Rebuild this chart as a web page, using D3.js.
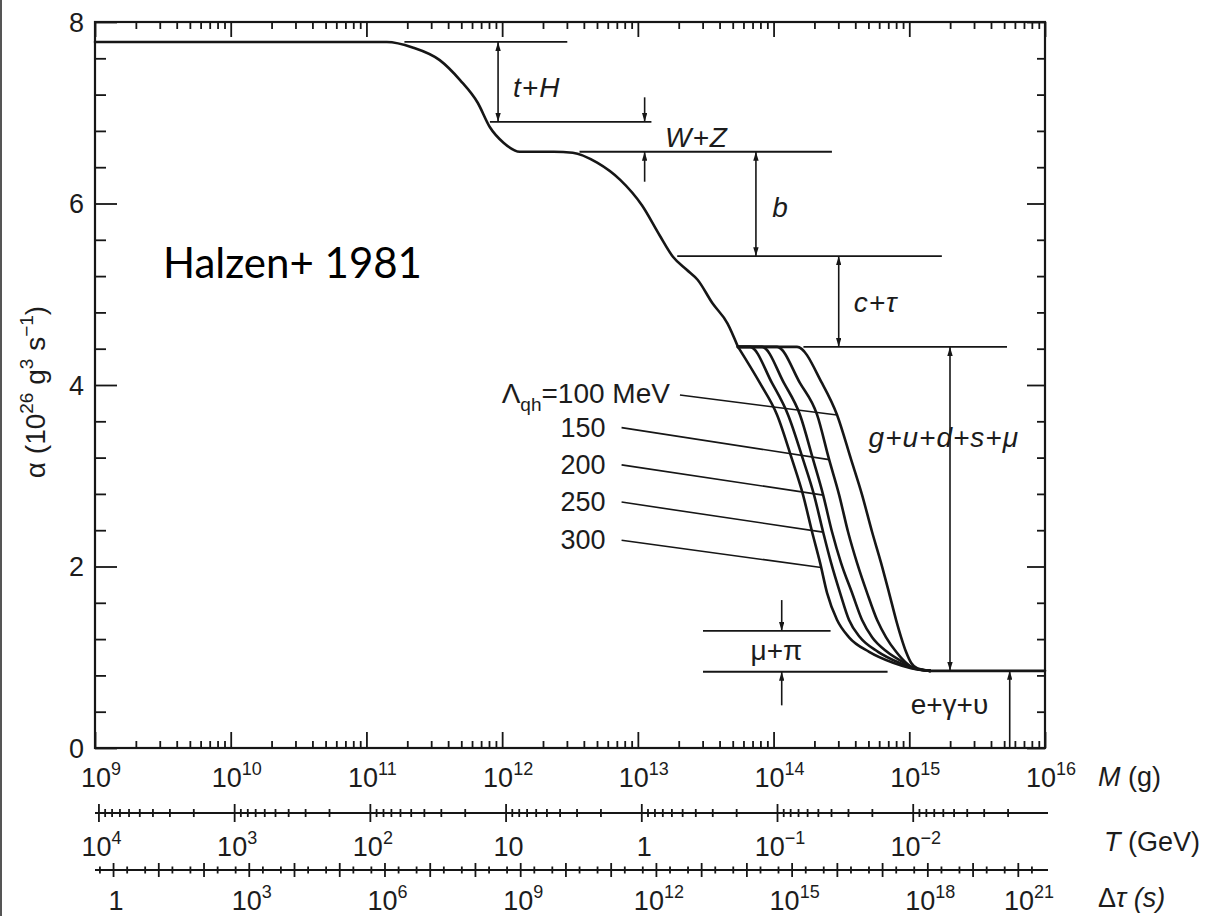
<!DOCTYPE html>
<html>
<head>
<meta charset="utf-8">
<script src="https://cdnjs.cloudflare.com/ajax/libs/d3/7.8.5/d3.min.js"></script>
<style>
  html, body { margin: 0; padding: 0; background: #fff; }
  svg { display: block; }
  text { font-family: "Liberation Sans", Arial, Helvetica, sans-serif; fill: #1c1c1c; }
</style>
</head>
<body>
<svg id="chart" width="1210" height="916"></svg>
<script>
// ---------------- data ----------------
// mass axis decades (log10 M [g]), temperature decades (log10 T [GeV]), lifetime decades (log10 Δτ [s])
const massDecades = [9, 10, 11, 12, 13, 14, 15, 16];
const tempDecades = [4, 3, 2, 1, 0, -1, -2];
const lifeDecades = [0, 3, 6, 9, 12, 15, 18, 21];
const alphaLabels = [0, 2, 4, 6, 8];

// α(M) above the quark–hadron transition (log10 M, α in 1e26 g^3 s^-1)
const commonLogM  = [9.00, 11.15, 11.34, 11.54, 11.69, 11.82, 11.91, 12.01, 12.13, 12.38, 12.52, 12.70, 12.87, 13.03, 13.16, 13.26, 13.36, 13.44, 13.55, 13.66, 13.738];
const commonAlpha = [7.78, 7.78, 7.72, 7.58, 7.36, 7.11, 6.84, 6.67, 6.57, 6.57, 6.56, 6.45, 6.26, 5.98, 5.65, 5.41, 5.27, 5.16, 4.90, 4.68, 4.42];

// branches for different Λ_qh
const lambdaQH = [100, 150, 200, 250, 300];
const branchLogM = [
  [13.738, 14.173, 14.357, 14.468, 14.571, 14.652, 14.726, 14.792, 14.851, 14.903, 14.940, 14.976, 15.013, 15.058, 15.153],
  [13.738, 14.026, 14.195, 14.321, 14.409, 14.483, 14.549, 14.615, 14.689, 14.763, 14.829, 14.903, 14.976, 15.035, 15.153],
  [13.738, 13.915, 14.077, 14.195, 14.291, 14.365, 14.431, 14.497, 14.578, 14.652, 14.726, 14.836, 14.962, 15.035, 15.153],
  [13.738, 13.827, 13.989, 14.107, 14.217, 14.298, 14.365, 14.424, 14.490, 14.556, 14.637, 14.770, 14.925, 15.028, 15.153],
  [13.738, 13.900, 14.026, 14.136, 14.217, 14.284, 14.343, 14.394, 14.468, 14.556, 14.704, 14.881, 15.013, 15.153]
];
const branchAlpha = [
  [4.42, 4.42, 4.02, 3.67, 3.18, 2.79, 2.38, 2.04, 1.71, 1.41, 1.22, 1.06, 0.94, 0.88, 0.85],
  [4.42, 4.42, 4.02, 3.67, 3.18, 2.79, 2.38, 2.04, 1.71, 1.41, 1.22, 1.06, 0.94, 0.88, 0.85],
  [4.42, 4.42, 4.02, 3.67, 3.18, 2.79, 2.38, 2.04, 1.71, 1.41, 1.22, 1.06, 0.94, 0.88, 0.85],
  [4.42, 4.42, 4.02, 3.67, 3.18, 2.79, 2.38, 2.04, 1.71, 1.41, 1.22, 1.06, 0.94, 0.88, 0.85],
  [4.42, 4.02, 3.67, 3.18, 2.79, 2.38, 2.04, 1.71, 1.41, 1.22, 1.06, 0.94, 0.88, 0.85]
];
// low-mass tail (only e, γ, ν left)
const tailLogM  = [15.153, 16.00];
const tailAlpha = [0.85, 0.85];

// reference levels of α between particle thresholds
const levelAlpha = [7.78, 6.90, 6.57, 5.42, 4.42, 1.29, 0.84];
const levelFrom  = [11.28, 11.91, 12.57, 13.29, 14.22, 13.48, 13.48];
const levelTo    = [12.48, 13.10, 14.43, 15.24, 15.72, 14.42, 14.84];

// vertical arrows marking each contribution
const arrowLogM = [11.97, 13.05, 13.05, 13.87, 14.48, 15.30, 14.06, 14.06, 15.74];
const arrowFrom = [7.78, 7.17, 6.24, 6.57, 5.42, 4.42, 1.63, 0.47, 0.00];
const arrowTo   = [6.90, 6.90, 6.57, 5.42, 4.42, 0.85, 1.29, 0.84, 0.85];
const arrowBoth = [true, false, false, true, true, true, false, false, false];

// contribution names
const stepNames  = ["t+H", "W+Z", "b", "c+τ", "g+u+d+s+μ", "μ+π", "e+γ+υ"];
const stepItalic = [true, true, true, true, true, false, false];

// ---------------- layout ----------------
const frame = { left: 95, right: 1045, top: 22, bottom: 748 };
const ink = "#161616";
const svg = d3.select("#chart");

const x = d3.scaleLog().domain([1e9, 1e16]).range([frame.left, frame.right]);
const y = d3.scaleLinear().domain([0, 8]).range([frame.bottom, frame.top]);
const X = lm => x(Math.pow(10, lm));

// temperature and lifetime scales tied to the mass scale: T = 1.06e13 g / M, Δτ ∝ M^3
const tScale = d3.scaleLog().domain([1.06e13 / 1e9, 1.06e13 / 1e16]).range([frame.left, frame.right]);
const lifeOffset = 9.133;
const dtScale = d3.scaleLog()
  .domain([Math.pow(10, 3 * (9 - lifeOffset)), Math.pow(10, 3 * (16 - lifeOffset))])
  .range([frame.left, frame.right]);

// positions of the annotation labels (log10 M, α)
const stepLabelPos = [[12.08, 7.17], [13.20, 6.62], [13.99, 5.85], [14.59, 4.80], [14.70, 3.32], [13.83, 0.97], [15.01, 0.38]];
const leaderStart = [[13.31, 3.89], [12.88, 3.53], [12.88, 3.12], [12.88, 2.71], [12.88, 2.29]];
const leaderEndAlpha = [3.67, 3.18, 2.79, 2.38, 1.99];

// ---------------- helpers ----------------
function richText(g, px, py, parts, size, anchor) {
  const t = g.append("text").attr("x", px).attr("y", py)
    .attr("text-anchor", anchor || "start")
    .style("font-size", size + "px");
  let shift = 0;
  parts.forEach(([str, kind, style]) => {
    const target = kind === "sup" ? -size * 0.44 : kind === "sub" ? size * 0.28 : 0;
    const ts = t.append("tspan").text(str).attr("dy", target - shift);
    if (kind !== "base") ts.style("font-size", Math.round(size * 0.68) + "px");
    if (style === "i") ts.style("font-style", "italic");
    shift = target;
  });
  return t;
}
const decadeParts = e => e === 0 ? [["1", "base"]] : e === 1 ? [["10", "base"]] :
  [["10", "base"], [e < 0 ? "−" + (-e) : String(e), "sup"]];

// image border on the left
svg.append("line").attr("x1", 1).attr("x2", 1).attr("y1", 0).attr("y2", 916)
  .attr("stroke", "#555").attr("stroke-width", 2);

// arrowhead
svg.append("defs").append("marker")
  .attr("id", "head").attr("viewBox", "0 0 10 6").attr("refX", 10).attr("refY", 3)
  .attr("markerUnits", "userSpaceOnUse").attr("markerWidth", 9).attr("markerHeight", 5.4)
  .attr("orient", "auto-start-reverse")
  .append("path").attr("d", "M0,0L10,3L0,6Z").attr("fill", ink);

// ---------------- frame and α/M axes ----------------
const isDecade = v => Math.abs(Math.log10(v) - Math.round(Math.log10(v))) < 1e-9;
const mTicks = x.ticks();
const mMajor = mTicks.filter(isDecade), mMinor = mTicks.filter(v => !isDecade(v));
const aTicks = d3.range(0, 21).map(i => +(i * 0.4).toFixed(1));
const aMajor = aTicks.filter(v => alphaLabels.includes(v)), aMinor = aTicks.filter(v => !alphaLabels.includes(v));

function tickAxis(axis, tx, ty) {
  const g = svg.append("g").attr("transform", `translate(${tx},${ty})`).call(axis);
  g.select(".domain").remove();
  g.selectAll("line").attr("stroke", ink).attr("stroke-width", 1.8);
  g.selectAll("text").remove();
  return g;
}
tickAxis(d3.axisTop(x).tickValues(mMinor).tickSize(7), 0, frame.bottom);
tickAxis(d3.axisTop(x).tickValues(mMajor).tickSize(16), 0, frame.bottom);
tickAxis(d3.axisBottom(x).tickValues(mMinor).tickSize(7), 0, frame.top);
tickAxis(d3.axisBottom(x).tickValues(mMajor).tickSize(15), 0, frame.top);
tickAxis(d3.axisRight(y).tickValues(aMinor).tickSize(11), frame.left, 0);
tickAxis(d3.axisRight(y).tickValues(aMajor).tickSize(22), frame.left, 0);
tickAxis(d3.axisLeft(y).tickValues(aMinor).tickSize(8), frame.right, 0);
tickAxis(d3.axisLeft(y).tickValues(aMajor).tickSize(18), frame.right, 0);

svg.append("rect")
  .attr("x", frame.left).attr("y", frame.top)
  .attr("width", frame.right - frame.left).attr("height", frame.bottom - frame.top)
  .attr("fill", "none").attr("stroke", ink).attr("stroke-width", 2.2);

// α tick labels
const labels = svg.append("g");
alphaLabels.forEach(v => {
  labels.append("text").attr("x", 84).attr("y", y(v)).attr("dy", "0.36em")
    .attr("text-anchor", "end").style("font-size", "27px").text(v);
});
// α title
richText(svg.append("g").attr("transform", `translate(45,392) rotate(-90)`), 0, 0,
  [["α (10", "base"], ["26", "sup"], [" g", "base"], ["3", "sup"], [" s", "base"], ["−1", "sup"], [")", "base"]],
  28, "middle");

// M labels
massDecades.forEach(e => richText(labels, x(Math.pow(10, e)) + 6, 787, decadeParts(e), 27, "middle"));
richText(labels, 1098, 786, [["M", "base", "i"], [" (g)", "base"]], 27, "start");

// ---------------- temperature axis ----------------
const tY = 813;
svg.append("line").attr("x1", frame.left).attr("x2", frame.right + 3).attr("y1", tY).attr("y2", tY)
  .attr("stroke", ink).attr("stroke-width", 2);
const tTicks = tScale.ticks().filter(v => tScale(v) >= frame.left && tScale(v) <= frame.right);
const tMajor = tTicks.filter(isDecade), tMinor = tTicks.filter(v => !isDecade(v));
[[tMinor, 4], [tMajor, 9]].forEach(([vals, s]) => {
  tickAxis(d3.axisTop(tScale).tickValues(vals).tickSize(s), 0, tY);
  tickAxis(d3.axisBottom(tScale).tickValues(vals).tickSize(s), 0, tY);
});
tempDecades.forEach(e => richText(labels, tScale(Math.pow(10, e)) + 3, 856, decadeParts(e), 27, "middle"));
richText(labels, 1104, 851, [["T", "base", "i"], [" (GeV)", "base"]], 27, "start");

// ---------------- lifetime axis ----------------
const dY = 870;
svg.append("line").attr("x1", frame.left).attr("x2", frame.right + 3).attr("y1", dY).attr("y2", dY)
  .attr("stroke", ink).attr("stroke-width", 2);
const dtDec = d3.range(0, 21).map(k => Math.pow(10, k));
const dtMinor = [];
d3.range(-1, 21).forEach(k => [2, 5].forEach(m => dtMinor.push(m * Math.pow(10, k))));
const dtMinorIn = dtMinor.filter(v => dtScale(v) >= frame.left && dtScale(v) <= frame.right);
[[dtMinorIn, 3.5], [dtDec, 7]].forEach(([vals, s]) => {
  tickAxis(d3.axisTop(dtScale).tickValues(vals).tickSize(s), 0, dY);
  tickAxis(d3.axisBottom(dtScale).tickValues(vals).tickSize(s), 0, dY);
});
lifeDecades.forEach(e => {
  const px = Math.min(dtScale(Math.pow(10, e)), frame.right - 19);
  const parts = e === 0 ? [["1", "base"]] : [["10", "base"], [String(e), "sup"]];
  richText(labels, px + 3, 910, parts, 27, "middle");
});
richText(labels, 1098, 907, [["Δ", "base"], ["τ (s)", "base", "i"]], 27, "start");

// ---------------- curves ----------------
const line = d3.line().x(d => X(d[0])).y(d => y(d[1])).curve(d3.curveMonotoneX);
const curves = svg.append("g").attr("fill", "none").attr("stroke", ink).attr("stroke-width", 2.6)
  .attr("stroke-linejoin", "round").attr("stroke-linecap", "round");
curves.append("path").attr("d", line(d3.zip(commonLogM, commonAlpha)));
const branchPaths = lambdaQH.map((lam, i) =>
  curves.append("path").attr("d", line(d3.zip(branchLogM[i], branchAlpha[i]))).node());
curves.append("path").attr("d", line(d3.zip(tailLogM, tailAlpha)));

// ---------------- threshold levels and arrows ----------------
const ann = svg.append("g").attr("stroke", ink).attr("stroke-width", 1.8).attr("fill", "none");
levelAlpha.forEach((a, i) => {
  ann.append("line").attr("x1", X(levelFrom[i])).attr("x2", X(levelTo[i]))
    .attr("y1", y(a)).attr("y2", y(a));
});
arrowLogM.forEach((lm, i) => {
  const l = ann.append("line").attr("x1", X(lm)).attr("x2", X(lm))
    .attr("y1", y(arrowFrom[i])).attr("y2", y(arrowTo[i]))
    .attr("stroke-width", 1.6)
    .attr("marker-end", "url(#head)");
  if (arrowBoth[i]) l.attr("marker-start", "url(#head)");
});

// contribution labels
stepNames.forEach((name, i) => {
  svg.append("text").attr("x", X(stepLabelPos[i][0])).attr("y", y(stepLabelPos[i][1]))
    .style("font-size", "28px")
    .style("letter-spacing", stepItalic[i] ? "1px" : "0px")
    .style("font-style", stepItalic[i] ? "italic" : "normal")
    .text(name);
});

// ---------------- Λ_qh leaders ----------------
function pointAtY(path, targetY) {
  const total = path.getTotalLength();
  for (let s = 0; s <= total; s += 0.5) {
    const p = path.getPointAtLength(s);
    if (p.y >= targetY) return p;
  }
  return path.getPointAtLength(total);
}
lambdaQH.forEach((lam, i) => {
  const sx = X(leaderStart[i][0]), sy = y(leaderStart[i][1]);
  const end = pointAtY(branchPaths[i], y(leaderEndAlpha[i]));
  svg.append("line").attr("x1", sx).attr("y1", sy).attr("x2", end.x).attr("y2", end.y)
    .attr("stroke", ink).attr("stroke-width", 1.6);
  if (i === 0) {
    richText(labels, sx - 10, sy + 8,
      [["Λ", "base"], ["qh", "sub"], ["=100 MeV", "base"]], 28, "end");
  } else {
    labels.append("text").attr("x", sx - 16).attr("y", sy + 9).attr("text-anchor", "end")
      .style("font-size", "27px").text(lam);
  }
});

// ---------------- citation ----------------
svg.append("text").attr("x", 163).attr("y", 278)
  .style("font-family", "Lato, 'Noto Sans', sans-serif").style("font-size", "42px")
  .style("fill", "#000").text("Halzen+ 1981");
</script>
</body>
</html>
